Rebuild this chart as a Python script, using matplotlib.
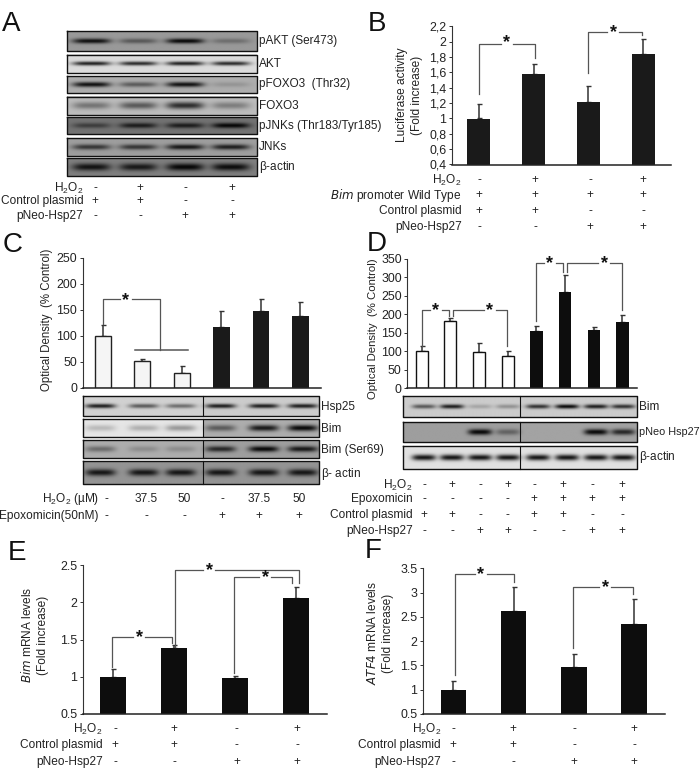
import numpy as np
import matplotlib
matplotlib.use('Agg')
import matplotlib.pyplot as plt

plt.rcParams['font.family'] = ['Liberation Sans', 'DejaVu Sans']
plt.rcParams['mathtext.default'] = 'regular'
plt.rcParams['text.color'] = '#222222'

W, H = 700, 768
H2O2 = r'$H_2O_2$'

# values
b_vals = [1.0, 1.58, 1.21, 1.84]
b_tops = [1.19, 1.71, 1.43, 2.04]
c_vals = [100, 51, 29, 117, 148, 139]
c_tops = [122, 55, 42, 148, 172, 165]
d_vals = [100, 181, 98, 87, 154, 259, 158, 178]
d_tops = [114, 191, 123, 100, 168, 306, 167, 199]
e_vals = [1.0, 1.38, 0.98, 2.06]
e_tops = [1.1, 1.43, 1.01, 2.21]
f_vals = [1.0, 2.62, 1.46, 2.36]
f_tops = [1.18, 3.12, 1.74, 2.86]

b_ticks = ['0,4', '0,6', '0,8', '1', '1,2', '1,4', '1,6', '1,8', '2', '2,2']
c_ticks = ['0', '50', '100', '150', '200', '250']
d_ticks = ['0', '50', '100', '150', '200', '250', '300', '350']
e_ticks = ['0.5', '1', '1.5', '2', '2.5']
f_ticks = ['0.5', '1', '1.5', '2', '2.5', '3', '3.5']

# treatment tables
a_rows = [(H2O2, '-+-+'), ('Control plasmid', '++--'), ('pNeo-Hsp27', '--++')]
b_rows = [(H2O2, '-+-+'), (r'$\mathit{Bim}$ promoter Wild Type', '++++'),
          ('Control plasmid', '++--'), ('pNeo-Hsp27', '--++')]
c_rows = [(H2O2 + ' (µM)', ['-', '37.5', '50', '-', '37.5', '50']),
          ('Epoxomicin(50nM)', '---+++')]
d_rows = [(H2O2, '-+-+-+-+'), ('Epoxomicin', '----++++'),
          ('Control plasmid', '++--++--'), ('pNeo-Hsp27', '--++--++')]
e_rows = [(H2O2, '-+-+'), ('Control plasmid', '++--'), ('pNeo-Hsp27', '--++')]

# band strengths per lane
a_blots = [('pAKT (Ser473)', [.95, .45, 1, .3]), ('AKT', [.9, .85, .9, .85]),
           ('pFOXO3  (Thr32)', [.95, .5, .95, .15]), ('FOXO3', [.4, .55, .8, .35]),
           ('pJNKs (Thr183/Tyr185)', [.5, .8, .8, 1]), ('JNKs', [.7, .7, .9, .85]),
           (r'$\beta$-actin', [.9, .85, 1, .95])]
c_blots = [('Hsp25', [.9, .6, .5, .9, .9, .9]), ('Bim', [.2, .25, .35, .5, .9, 1]),
           ('Bim (Ser69)', [.4, .2, .2, .8, 1, .9]), (r'$\beta$- actin', [.9] * 6)]
d_blots = [('Bim', [.6, .9, .2, .3, .8, 1, .9, .8]),
           ('pNeo Hsp27', [0, 0, 1, .4, 0, 0, 1, .8]),
           (r'$\beta$-actin', [.95] * 8)]


def make_axes(left, right, top, bottom, ymin, ymax):
    ax = fig.add_axes([left / W, 1 - bottom / H, (right - left) / W, (bottom - top) / H])
    ax.set_xlim(left, right)
    ax.set_ylim(ymin, ymax)
    ax.patch.set_alpha(0)
    for s in ['top', 'right']:
        ax.spines[s].set_visible(False)
    ax.spines['left'].set_color('#333333')
    ax.spines['bottom'].set_color('#222222')
    ax.spines['bottom'].set_linewidth(1.1)
    ax.set_xticks([])
    ax.tick_params(axis='y', length=2, width=0.7, pad=2, labelsize=8.9, color='#333333',
                   labelcolor='#222222')
    return ax


def bars(ax, x, vals, tops, width, color, edge, lw=0):
    vals, tops = np.array(vals), np.array(tops)
    ax.bar(x, vals - ax.get_ylim()[0], width, bottom=ax.get_ylim()[0], color=color,
           edgecolor=edge, linewidth=lw, zorder=2)
    ax.errorbar(x, vals, yerr=[vals * 0, tops - vals], fmt='none', ecolor='#333333',
                elinewidth=1.1, capsize=1.8, capthick=1.0, zorder=1)


def bracket(x0, y0, ytop, x1, y1, star_x, gap=6, star_dy=0, color='#555555'):
    ov.plot([x0, x0, star_x - gap], [y0, ytop, ytop], color=color, lw=0.9)
    ov.plot([star_x + gap, x1, x1], [ytop, ytop, y1], color=color, lw=0.9)
    ov.text(star_x, ytop + 0.5 + star_dy, '*', fontsize=13, ha='center', va='center',
            fontweight='bold', color='#111111')


def blot(x0, x1, y0, y1, lanes, strength, bg, thick, width, divider=None):
    xx, yy = np.meshgrid(np.linspace(x0, x1, int(x1 - x0) * 2), np.linspace(y0, y1, int(y1 - y0) * 2))
    if divider is None:
        img = np.full(xx.shape, float(bg[0]))
    else:
        img = np.where(xx < divider, float(bg[0]), float(bg[1]))
    yc = (y0 + y1) / 2
    for c, s in zip(lanes, strength):
        img = img * (1 - 0.95 * s * np.exp(-((xx - c) / width) ** 4 - ((yy - yc) / thick) ** 2))
    ov.imshow(img, extent=(x0, x1, y1, y0), cmap='gray', vmin=0, vmax=1, aspect='auto',
              interpolation='bilinear', zorder=1)
    ov.plot([x0, x1, x1, x0, x0], [y0, y0, y1, y1, y0], color='#111111', lw=1.0, zorder=2)
    if divider is not None:
        ov.plot([divider, divider], [y0, y1], color='#111111', lw=0.8, zorder=2)


def table(rows, ys, right, xs, fs=8.6):
    for (label, marks), y in zip(rows, ys):
        ov.text(right, y, label, ha='right', va='center', fontsize=fs)
        for m, x in zip(marks, xs):
            ov.text(x, y, m, ha='center', va='center', fontsize=fs)


fig = plt.figure(figsize=(W / 100, H / 100), dpi=100)

ov = fig.add_axes([0, 0, 1, 1], zorder=5)
ov.patch.set_alpha(0)
ov.axis('off')

for letter, x, y in [('A', 2, 24), ('B', 368, 24), ('C', 3, 245), ('D', 367, 244),
                     ('E', 8, 553), ('F', 365, 551)]:
    ov.text(x, y, letter, fontsize=20, ha='left', va='center', color='#111111')

# A
a_boxes = [(31, 50.7), (55, 73.3), (76.3, 92.7), (96.7, 115), (117.3, 134.3), (138, 155.7), (158.3, 175.7)]
a_bg = [.6, .86, .68, .74, .45, .62, .5]
a_thick = [2.5, 2, 2.5, 3.5, 2.7, 2.7, 3.6]
for (label, st), (y0, y1), bg, th in zip(a_blots, a_boxes, a_bg, a_thick):
    blot(67.3, 256.7, y0, y1, [91.7, 138.3, 185, 230.7], st, [bg], th, 19)
    ov.text(259.3, (y0 + y1) / 2, label, ha='left', va='center', fontsize=8.5)
table(a_rows, [188.5, 201.3, 216], 83.3, [95, 140, 185.3, 232.3])

# B
ax = make_axes(451.7, 671, 26.5, 164.5, 0.4, 2.2)
ax.set_yticks(np.arange(len(b_ticks)) * 0.2 + 0.4, b_ticks)
bars(ax, [478.7, 533.7, 588.3, 643.3], b_vals, b_tops, 22.5, '#1a1a1a', '#1a1a1a')
ov.text(401.7, 95, 'Luciferase activity', rotation=90, ha='center', va='center', fontsize=8.6)
ov.text(416.7, 95, '(Fold increase)', rotation=90, ha='center', va='center', fontsize=8.6)
bracket(479.3, 94, 44.3, 535, 58.3, 506.7, star_dy=-2)
bracket(588.3, 72.7, 32.3, 642.3, 35.3, 613.3)
table(b_rows, [180, 195.3, 210.7, 227.3], 461.7, [479.3, 535.3, 590, 643.3])

# C
ax = make_axes(82.7, 320.7, 258, 388, 0, 250)
ax.set_yticks(np.arange(len(c_ticks)) * 50, c_ticks)
c_x = [102.7, 142, 181.7, 221.3, 261, 300.3]
bars(ax, c_x[:3], c_vals[:3], c_tops[:3], 16, '#f5f5f5', '#222222', 1.0)
bars(ax, c_x[3:], c_vals[3:], c_tops[3:], 16.7, '#1a1a1a', '#1a1a1a')
ov.text(47, 320, 'Optical Density  (% Control)', rotation=90, ha='center', va='center', fontsize=8.3)
bracket(102.7, 324, 299, 160, 350, 126, star_dy=1)
ov.plot([135, 188], [350, 350], color='#555555', lw=1.1)
c_boxes = [(396, 415.7), (418.7, 436.7), (440.3, 458.3), (461.3, 484.3)]
c_bg = [(.82, .8), (.9, .68), (.68, .62), (.58, .58)]
c_thick = [2.2, 3.2, 3, 3.5]
c_lanes = [100, 143, 180, 220, 263, 302]
for (label, st), (y0, y1), bg, th in zip(c_blots, c_boxes, c_bg, c_thick):
    blot(82.7, 319, y0, y1, c_lanes, st, bg, th, 15, divider=202.7)
    ov.text(320.7, (y0 + y1) / 2 + 1, label, ha='left', va='center', fontsize=8.5)
table(c_rows, [499, 516], 99, [106.7, 146, 184, 222.3, 259.3, 299.3])

# D
ax = make_axes(407.3, 637, 258.8, 388.3, 0, 350)
ax.set_yticks(np.arange(len(d_ticks)) * 50, d_ticks)
d_x = [421.7, 450.3, 479.3, 507.7, 536.3, 565, 594, 622.3]
bars(ax, d_x[:4], d_vals[:4], d_tops[:4], 12, 'white', '#111111', 1.0)
bars(ax, d_x[4:], d_vals[4:], d_tops[4:], 12.7, '#0d0d0d', '#0d0d0d')
ov.text(372.5, 329, 'Optical Density  (% Control)', rotation=90, ha='center', va='center', fontsize=8.2)
bracket(421.7, 346, 310, 449, 316, 436)
bracket(452.7, 316, 310, 506.7, 346, 490)
bracket(536, 320.7, 262.7, 563.3, 271.7, 550)
bracket(566.7, 271.7, 262.7, 622.3, 310, 604.3)
d_boxes = [(396, 417), (422, 441.7), (446, 468.7)]
d_bg = [(.8, .8), (.62, .64), (.88, .88)]
d_thick = [2.2, 3.0, 3.0]
d_lanes = [424, 452, 480, 508, 538, 567, 596, 623]
for (label, st), (y0, y1), bg, th in zip(d_blots, d_boxes, d_bg, d_thick):
    blot(403.3, 636.7, y0, y1, d_lanes, st, bg, th, 12, divider=520.3)
    ov.text(639, (y0 + y1) / 2, label, ha='left', va='center',
            fontsize=7.8 if 'Neo' in label else 8.5)
table(d_rows, [485, 498.7, 515, 531], 412.7, [424, 452, 480, 507.7, 534.3, 563.3, 592, 622])

# E
ax = make_axes(82.7, 327.3, 565, 714, 0.5, 2.5)
ax.set_yticks(np.arange(len(e_ticks)) * 0.5 + 0.5, e_ticks)
bars(ax, [112.7, 173.7, 235, 296], e_vals, e_tops, 26, '#0d0d0d', '#0d0d0d')
ov.text(26.7, 635, r'$\mathit{Bim}$ mRNA levels', rotation=90, ha='center', va='center', fontsize=8.6)
ov.text(42.7, 635, '(Fold increase)', rotation=90, ha='center', va='center', fontsize=8.6)
bracket(112.3, 666.7, 636.7, 172, 642.7, 139.3)
bracket(175, 646.7, 570, 299, 582.7, 209)
bracket(234.3, 673.3, 576.7, 291.7, 582.7, 265)
table(e_rows, [729, 745, 761.7], 102.7, [115, 174, 236.7, 297.3])

# F
ax = make_axes(422.7, 665, 568.3, 714, 0.5, 3.5)
ax.set_yticks(np.arange(len(f_ticks)) * 0.5 + 0.5, f_ticks)
bars(ax, [453.3, 513.7, 574, 634], f_vals, f_tops, 25.3, '#0d0d0d', '#0d0d0d')
ov.text(372.7, 633, r'$\mathit{ATF4}$ mRNA levels', rotation=90, ha='center', va='center', fontsize=8.6)
ov.text(387.7, 633, '(Fold increase)', rotation=90, ha='center', va='center', fontsize=8.6)
bracket(455, 675, 574, 514, 581.7, 480.7)
bracket(573.3, 648.3, 587.3, 633.3, 594, 605)
table(e_rows, [729, 745, 761.7], 441, [453.3, 513, 574, 634])

ov.set_xlim(0, W)
ov.set_ylim(H, 0)
fig.savefig('out.png', dpi=100)
